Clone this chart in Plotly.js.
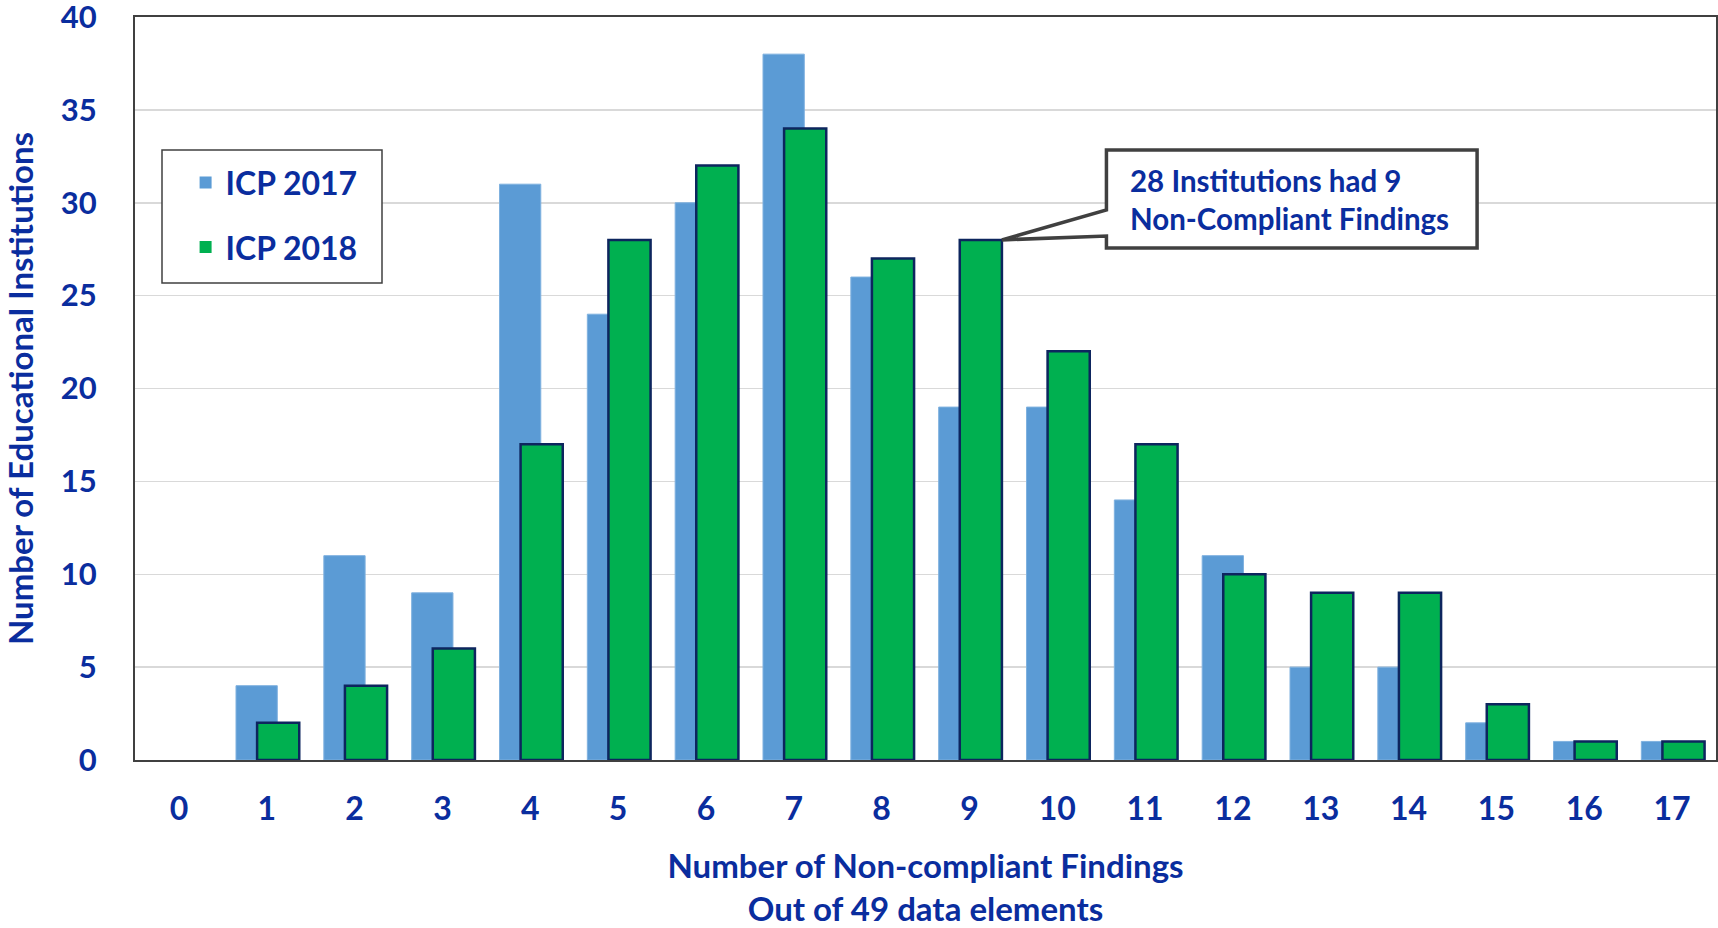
<!DOCTYPE html>
<html>
<head>
<meta charset="utf-8">
<script src="https://cdn.plot.ly/plotly-3.0.1.min.js"></script>
<style>html,body{margin:0;padding:0;background:#fff;}#chart{width:1718px;height:928px;}</style>
</head>
<body>
<div id="chart"></div>
<script>
const findings = [0,1,2,3,4,5,6,7,8,9,10,11,12,13,14,15,16,17];
const icp2017 = [0,4,11,9,31,24,30,38,26,19,19,14,11,5,5,2,1,1];
const icp2018 = [0,2,4,6,17,28,32,34,27,28,22,17,10,9,9,3,1,1];
const tickLabels = findings.map(String);
const calloutText = "28 Institutions had 9<br>Non-Compliant Findings";
const calloutX = 9;
const calloutY = 28;

const NAVY = '#0a2d9e';
const FONT = 'Lato, "Open Sans", sans-serif';

const traces = [
  {
    type: 'bar', name: 'ICP 2017', x: findings, y: icp2017,
    offset: -0.35, width: 0.47,
    marker: {color: '#5b9bd5', line: {color: '#7fb1df', width: icp2017.map(v => v > 0 ? 1 : 0)}},
    legendgroup: 'a'
  },
  {
    type: 'bar', name: 'ICP 2018', x: findings, y: icp2018,
    offset: -0.11, width: 0.48,
    marker: {color: '#00b050', line: {color: '#0d255e', width: icp2018.map(v => v > 0 ? 2.5 : 0)}},
    legendgroup: 'b'
  }
];

const greenRight = calloutX - 0.11 + 0.48;
const bx0 = 10.56, bx1 = 14.78, by0 = 27.56, by1 = 32.84;
const calloutPath = `M ${greenRight} ${calloutY} L ${bx0} 28.21 L ${bx0} ${by0} L ${bx1} ${by0} L ${bx1} ${by1} L ${bx0} ${by1} L ${bx0} 29.61 Z`;

const layout = {
  width: 1718, height: 928,
  margin: {l: 135, r: 2, t: 17, b: 168},
  paper_bgcolor: '#fff', plot_bgcolor: '#fff',
  barmode: 'overlay',
  font: {family: FONT, color: NAVY, size: 28, weight: 'bold'},
  xaxis: {
    type: 'linear', range: [-0.5, 17.5],
    tickmode: 'array', tickvals: findings, ticktext: tickLabels,
    tickfont: {family: FONT, size: 32, color: NAVY, weight: 'bold'},
    ticks: '', ticklabelstandoff: 20, ticklabeloverflow: 'allow',
    showgrid: false, zeroline: false,
    showline: true, linecolor: '#404040', linewidth: 2, mirror: true,
    title: {text: 'Number of Non-compliant Findings<br>Out of 49 data elements',
            font: {family: FONT, size: 33, color: NAVY, weight: 'bold'}, standoff: 30},
    automargin: false
  },
  yaxis: {
    range: [0, 40], dtick: 5, tick0: 0,
    tickfont: {family: FONT, size: 31, color: NAVY, weight: 'bold'},
    ticks: '', ticklabelstandoff: 30, ticklabeloverflow: 'allow',
    showgrid: true, gridcolor: '#d9d9d9', gridwidth: 1.5,
    zeroline: false,
    showline: true, linecolor: '#404040', linewidth: 2, mirror: true,
    title: {text: 'Number of Educational Institutions',
            font: {family: FONT, size: 33, color: NAVY, weight: 'bold'}, standoff: 20},
    automargin: false
  },
  legend: {
    x: 0.032, y: 0.814, xanchor: 'left', yanchor: 'top',
    bgcolor: 'rgba(0,0,0,0)', borderwidth: 0,
    font: {family: FONT, size: 32, color: NAVY, weight: 'bold'},
    traceorder: 'grouped', tracegroupgap: 20,
    itemwidth: 30
  },
  shapes: [
    {type: 'rect', xref: 'paper', yref: 'paper',
     x0: (162 - 135) / 1581, x1: (382 - 135) / 1581,
     y0: (760 - 283) / 743, y1: (760 - 150) / 743,
     fillcolor: '#fff', line: {color: '#404040', width: 1.5}, layer: 'above'},
    {type: 'path', xref: 'x', yref: 'y', path: calloutPath,
     fillcolor: '#fff', line: {color: '#404040', width: 3.5}, layer: 'above'}
  ],
  annotations: [
    {xref: 'x', yref: 'y', x: 10.8, y: 30.2, xanchor: 'left', yanchor: 'middle',
     align: 'left', showarrow: false, text: calloutText,
     font: {family: FONT, size: 29.5, color: NAVY, weight: 'bold'}}
  ]
};

Plotly.newPlot('chart', traces, layout, {displayModeBar: false, staticPlot: true});
</script>
</body>
</html>
